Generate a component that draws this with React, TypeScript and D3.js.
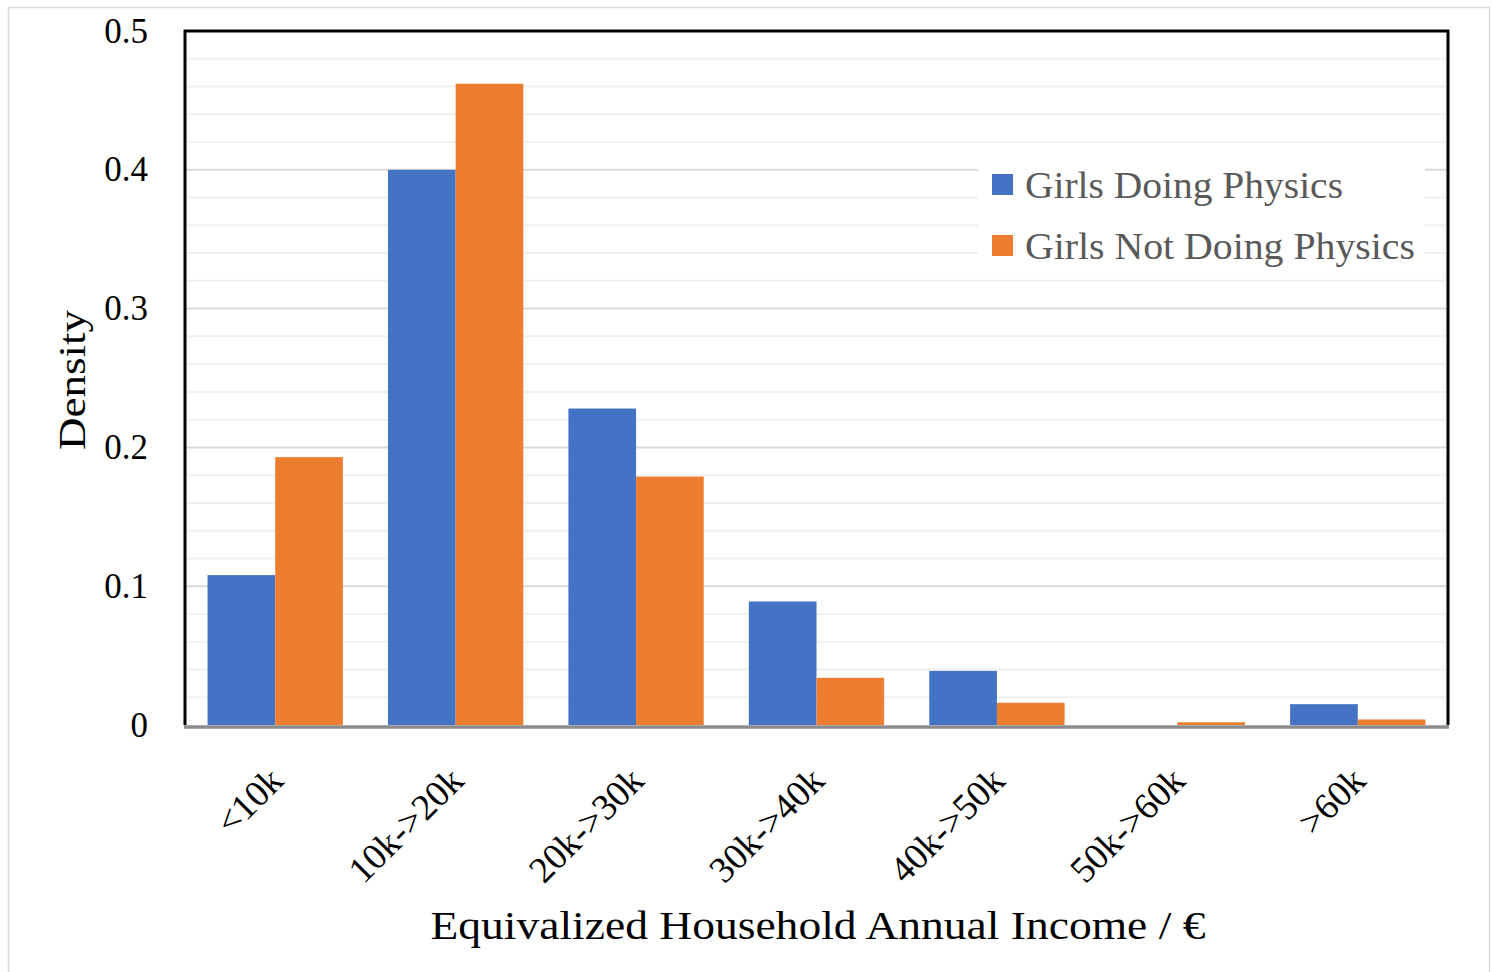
import React from 'react';
import * as d3 from 'd3';

// income bands and the two density series
const categories = ['<10k', '10k->20k', '20k->30k', '30k->40k', '40k->50k', '50k->60k', '>60k'];
const girlsDoing = [0.108, 0.4, 0.228, 0.089, 0.039, 0, 0.015];
const girlsNotDoing = [0.193, 0.462, 0.179, 0.034, 0.016, 0.002, 0.004];
const seriesNames = ['Girls Doing Physics', 'Girls Not Doing Physics'];
const yTicks = [0, 0.1, 0.2, 0.3, 0.4, 0.5];

const colors = ['#4472C4', '#ED7D31'];
const font = '"Liberation Serif", "Times New Roman", serif';
// widths the Palatino text takes in the original
const legendWidths = [318, 390];

const App = () => {
  const width = 1492;
  const height = 972;
  const plot = { left: 185, right: 1448, top: 31, bottom: 725 };

  const x = d3.scaleBand<string>()
    .domain(categories)
    .range([plot.left, plot.right])
    .paddingInner(0.25)
    .paddingOuter(0.125);

  const xSub = d3.scaleBand<number>()
    .domain([0, 1])
    .range([0, x.bandwidth()]);

  const y = d3.scaleLinear().domain([0, 0.5]).range([plot.bottom, plot.top]);

  const minorTicks = d3.range(0, 0.5001, 0.02).filter(v => Math.abs((v * 10) - Math.round(v * 10)) > 1e-6);

  const series = [girlsDoing, girlsNotDoing];

  return (
    <svg width={width} height={height} style={{ position: 'absolute', left: 0, top: 0, background: '#fff' }}>
      <rect x={8.5} y={7.5} width={1481} height={970} fill="#fff" stroke="#d9d9d9" strokeWidth={1.5} />

      {/* gridlines */}
      {minorTicks.map(v => (
        <line key={'m' + v} x1={plot.left} x2={plot.right} y1={y(v)} y2={y(v)} stroke="#f0f0f0" strokeWidth={2} />
      ))}
      {yTicks.filter(v => v > 0 && v < 0.5).map(v => (
        <line key={'g' + v} x1={plot.left} x2={plot.right} y1={y(v)} y2={y(v)} stroke="#d9d9d9" strokeWidth={2} />
      ))}

      {/* legend box (hides gridlines behind it) */}
      <rect x={978} y={150} width={447} height={112} fill="#fff" />
      {seriesNames.map((name, i) => (
        <g key={name} transform={`translate(992, ${174 + i * 61})`}>
          <rect width={21} height={21} fill={colors[i]} />
          <text
            x={33}
            y={11}
            dominantBaseline="central"
            fontFamily={font}
            fontSize={38}
            fill="#595959"
            textLength={legendWidths[i]}
            lengthAdjust="spacingAndGlyphs"
          >
            {name}
          </text>
        </g>
      ))}

      {/* bars */}
      {categories.map((c, ci) => (
        <g key={c} transform={`translate(${x(c)},0)`}>
          {series.map((s, si) => (
            <rect
              key={si}
              x={xSub(si)}
              y={y(s[ci])}
              width={xSub.bandwidth()}
              height={plot.bottom - y(s[ci])}
              fill={colors[si]}
            />
          ))}
        </g>
      ))}

      {/* frame */}
      <path
        d={`M${plot.left},${plot.bottom} V${plot.top} H${plot.right} V${plot.bottom}`}
        fill="none"
        stroke="#000"
        strokeWidth={3}
      />
      <line x1={plot.left - 1} x2={plot.right + 1} y1={plot.bottom + 2} y2={plot.bottom + 2} stroke="#8c8c8c" strokeWidth={3.5} />

      {/* y tick labels */}
      {yTicks.map(v => (
        <text key={v} x={148} y={y(v)} textAnchor="end" dominantBaseline="central" fontFamily={font} fontSize={35} fill="#000">
          {v === 0 ? '0' : d3.format('.1f')(v)}
        </text>
      ))}

      {/* x tick labels */}
      {categories.map(c => {
        const cx = (x(c) ?? 0) + x.bandwidth() / 2 + 1;
        return (
          <text
            key={c}
            transform={`translate(${cx},774) rotate(-45)`}
            textAnchor="end"
            dominantBaseline="central"
            fontFamily={font}
            fontSize={37}
            fill="#000"
          >
            {c}
          </text>
        );
      })}

      {/* axis titles */}
      <text
        transform="translate(72,380) rotate(-90)"
        textAnchor="middle"
        dominantBaseline="central"
        fontFamily={font}
        fontSize={38}
        fill="#000"
        textLength={140}
        lengthAdjust="spacingAndGlyphs"
      >
        Density
      </text>
      <text
        x={818}
        y={925}
        textAnchor="middle"
        dominantBaseline="central"
        fontFamily={font}
        fontSize={40}
        fill="#000"
        textLength={775}
        lengthAdjust="spacingAndGlyphs"
      >
        Equivalized Household Annual Income /  €
      </text>
    </svg>
  );
};

export default App;
